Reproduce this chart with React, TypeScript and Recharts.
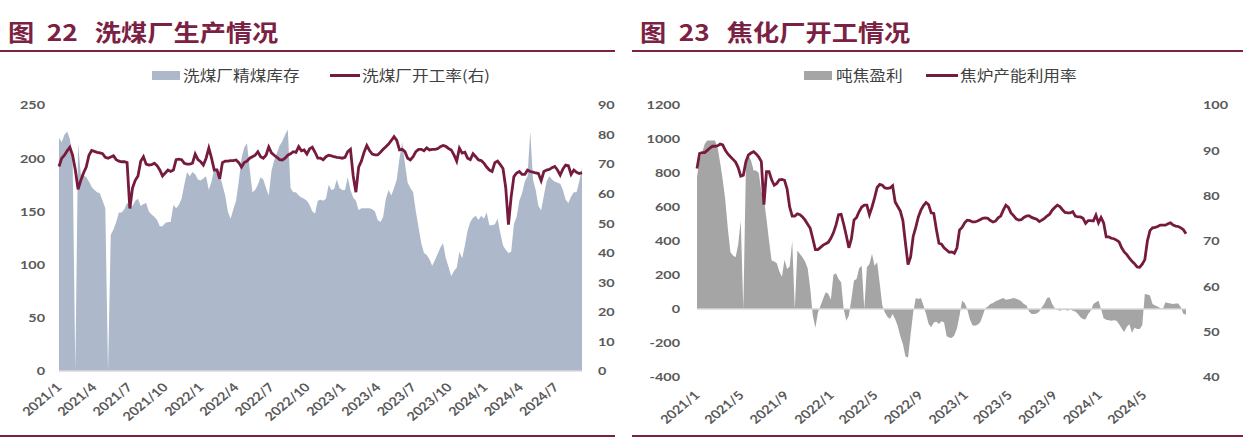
import React from "react";
import { ComposedChart, Area, Line, XAxis, YAxis, ReferenceLine } from "recharts";

// weekly series, first point = 2021/1/1
const WEEK = 7 * 24 * 3600 * 1000;
const START = Date.UTC(2021, 0, 1);

// 图22 洗煤厂精煤库存 (left axis)
const washStock = [
  219, 215, 222, 225, 218, 200, 0, 214, 185, 184,
  182, 178, 173, 170, 168, 167, 160, 153, 0, 128,
  133, 140, 149, 149, 152, 158, 157, 155, 160, 162,
  155, 157, 158, 150, 147, 145, 142, 136, 136, 139,
  140, 140, 156, 153, 156, 162, 175, 187, 183, 187,
  185, 180, 179, 181, 183, 170, 178, 190, 185, 184,
  175, 165, 150, 143, 152, 160, 178, 200, 210, 214,
  190, 168, 170, 175, 182, 180, 172, 165, 188, 198,
  205, 212, 216, 222, 227, 172, 168, 168, 165, 163,
  162, 160, 156, 150, 148, 160, 161, 160, 162, 175,
  170, 171, 180, 172, 170, 170, 182, 170, 163, 160,
  151, 153, 153, 153, 153, 152, 150, 142, 140, 145,
  162, 170, 165, 172, 180, 200, 215, 195, 177, 172,
  168, 150, 135, 120, 111, 109, 105, 99, 104, 110,
  116, 120, 106, 98, 89, 94, 97, 112, 106, 118,
  132, 140, 144, 146, 142, 146, 143, 149, 137, 137,
  138, 143, 130, 118, 114, 111, 112, 138, 145, 160,
  167, 178, 183, 225, 180, 170, 155, 151, 165, 178,
  183, 180, 178, 177, 176, 170, 161, 158, 164, 168,
  168, 178, 191,
];

// 洗煤厂开工率 (right axis)
const washRate = [
  69.2, 72, 73, 74.5, 75.7, 73, 68, 61.5, 64.5, 67,
  69, 73, 74.6, 74.3, 74, 73.8, 73.5, 72.3, 72, 72.4,
  72.8, 71.5, 71, 70.8, 70.8, 70.5, 55, 62, 64.5, 66,
  71, 72.5, 70, 69.7, 69.8, 70.3, 69.5, 68, 66, 67,
  68, 67.5, 68, 71.5, 71.7, 71.5, 70.3, 70, 70, 70.3,
  73.4, 71.5, 70.8, 69.7, 72, 75.4, 72, 68, 68, 65,
  70.5, 71, 71, 71.2, 71.2, 71.4, 70.5, 69, 70.5, 71,
  72, 72.5, 73, 74.2, 72.5, 72, 73, 75.8, 73.8, 73,
  72.3, 71.5, 71.4, 72, 73, 73.5, 74.2, 74, 75.9, 74.5,
  74.8, 73.4, 75.2, 75.7, 74, 72, 72, 71.5, 72.5, 73,
  72.8, 72.5, 72.3, 72.2, 72, 72.3, 74.2, 75, 66, 60.5,
  69, 71, 74, 76.3, 74.6, 73.4, 73.1, 73.1, 74, 75,
  75.9, 76.8, 78, 79.3, 78, 74.8, 75, 74.2, 72, 71.4,
  72.5, 74.2, 75, 75, 74.5, 75.5, 74.8, 75, 75, 75.2,
  75.9, 76.3, 76, 75.3, 74.8, 73.1, 71, 75.4, 73.7, 74,
  72, 71.5, 73.5, 72.5, 71.4, 71.2, 70.3, 69, 68, 67.5,
  70.5, 71, 69.8, 68.5, 62, 49.5, 59, 65.8, 67, 67.5,
  66.5, 66.5, 68, 67.5, 67.3, 67, 66.8, 64.4, 67.5, 68,
  68.2, 68.8, 69.2, 68, 66.3, 68.4, 69.7, 69.5, 66.5, 68,
  67.2, 66.8, 67.1,
];

const washTicks = [
  "2021/1", "2021/4", "2021/7", "2021/10", "2022/1", "2022/4", "2022/7", "2022/10",
  "2023/1", "2023/4", "2023/7", "2023/10", "2024/1", "2024/4", "2024/7",
];

// 图23 吨焦盈利 (left axis)
const cokeProfit = [
  775, 880, 920, 970, 991, 991, 991, 991, 950, 860,
  760, 640, 470, 334, 314, 304, 380, 520, 0, 834,
  903, 873, 815, 815, 800, 690, 650, 530, 400, 285,
  280, 269, 220, 190, 290, 236, 250, 400, 0, 344,
  324, 304, 280, 240, 120, -40, -110, -20, 20, 60,
  98, 90, 55, 200, 210, 177, 157, 0, -69, -40,
  60, 167, 177, 240, 255, 0, 245, 265, 324, 255,
  275, 150, 20, -20, -45, -59, -30, -60, -100, -160,
  -206, -280, -285, -150, -20, 65, 59, 65, 20, -30,
  -88, -108, -80, -75, -88, -72, -80, -160, -167, -170,
  -155, -115, -40, 49, 35, 0, -60, -95, -98, -92,
  -80, -40, 5, 14, 29, 36, 45, 52, 59, 65,
  55, 58, 60, 65, 60, 55, 45, 29, 22, -15,
  -29, -30, -26, -15, 10, 32, 65, 69, 29, 5,
  -5, -10, -5, -5, -10, -2, -10, -15, -30, -49,
  -60, -60, -30, -10, 29, 39, 49, 0, -55, -63,
  -66, -69, -66, -69, -90, -115, -135, -105, -90, -140,
  -110, -118, -118, -95, 88, 85, 80, 30, 20, 15,
  5, 0, 39, 36, 32, 30, 32, 33, 10, -29,
  -33,
];

// 焦炉产能利用率 (right axis)
const cokeRate = [
  86, 89.3, 89.5, 89.5, 90, 90.5, 90.9, 90.9, 91, 91.4,
  91.2, 90, 89.2, 88.6, 88, 87.4, 86.2, 84.3, 84.5, 87.5,
  89, 89.4, 89.7, 89.2, 88.5, 87.5, 78, 85.3, 85.3, 83.5,
  82.3, 82.7, 83.5, 83.6, 83.4, 81.5, 77.5, 75.5, 75.5, 76,
  75.8, 75.3, 74.6, 73.7, 72.8, 70.5, 68.1, 68.1, 68.6, 69.1,
  69.4, 69.7, 70.6, 71.8, 73.5, 75.8, 75.9, 73.7, 71.2, 68.5,
  70.5, 74.6, 75.2, 76.5, 77.5, 77.9, 77.9, 75.8, 77.5, 79.5,
  81.8, 82.5, 82.3, 81.7, 81.6, 81.7, 82.2, 78.6, 77.6, 76.6,
  74.5, 69.5, 64.8, 66.5, 71, 73, 75.3, 76.8, 77.8, 78.5,
  78, 76.2, 76.1, 72.6, 69.5, 69.3, 68.5, 68, 67.5, 67.6,
  67.3, 68.5, 72.4, 73, 74, 74.6, 74.5, 74.2, 74.2, 74.4,
  74.7, 75, 75.1, 75, 74.5, 74.2, 74.4, 75.1, 75.5, 76.8,
  77.9, 77.4, 76.2, 75.6, 74.9, 74.6, 74.7, 75.2, 75.5, 75.6,
  75.2, 75, 74.8, 74.3, 74.6, 75, 75.5, 75.9, 76.8, 77.4,
  77.9, 77.6, 76.9, 76.3, 76.2, 76.2, 76.5, 75.5, 75.3, 75.3,
  75, 73.9, 74.5, 74.5, 74.4, 75.7, 74, 75.2, 74, 70.9,
  70.9, 70.6, 70.5, 70.2, 69.8, 68.5, 67.6, 67, 66.2, 65.5,
  65, 64.3, 64.2, 64.9, 65.9, 70, 72.3, 72.9, 73, 73.2,
  73.5, 73.5, 73.5, 73.8, 74, 73.5, 73.3, 73.2, 72.9, 72.5,
  71.6,
];

const cokeTicks = [
  "2021/1", "2021/5", "2021/9", "2022/1", "2022/5", "2022/9",
  "2023/1", "2023/5", "2023/9", "2024/1", "2024/5",
];

const toTime = (label: string) => {
  const [y, m] = label.split("/").map(Number);
  return Date.UTC(y, m - 1, 1);
};

const washData = washStock.map((v, i) => ({ t: START + i * WEEK, stock: v, rate: washRate[i] }));
const cokeData = cokeProfit.map((v, i) => ({ t: START + i * WEEK, profit: v, rate: cokeRate[i] }));

const MAROON = "#761a3e";
const TITLE = "#7b2143";
const NUM_FONT = "Lato, 'Liberation Sans', sans-serif";
const CJK_FONT = "'Noto Sans CJK SC', sans-serif";
const SX = 1.2; // the source picture is stretched sideways

function NumTick(props: any) {
  const { x, y, payload, textAnchor } = props;
  return (
    <g transform={`translate(${x},${y}) scale(${SX},1)`}>
      <text x={0} y={0} dy="0.36em" textAnchor={textAnchor} fill="#595959"
        fontSize={12} fontWeight={700} fontFamily={NUM_FONT}>
        {payload.value}
      </text>
    </g>
  );
}

function makeDateTick(labels: string[], dy: number) {
  return (props: any) => {
    const { x, y, payload } = props;
    const label = labels.find((l) => toTime(l) === payload.value) ?? "";
    return (
      <g transform={`translate(${x},${y + dy}) scale(${SX},1) rotate(-45)`}>
        <text x={0} y={0} dy="0.36em" textAnchor="end" fill="#595959"
          fontSize={12} fontWeight={700} fontFamily={NUM_FONT}>
          {label}
        </text>
      </g>
    );
  };
}

function Title({ num, text }: { num: string; text: string }) {
  return (
    <div style={{
      position: "absolute", left: 8, top: 17, whiteSpace: "nowrap",
      fontFamily: CJK_FONT, fontWeight: 700, fontSize: 23, lineHeight: "28px",
      color: TITLE, transform: `scaleX(1.14)`, transformOrigin: "left center",
    }}>
      <span>图</span>
      <span style={{ marginLeft: 11 }}>{num}</span>
      <span style={{ marginLeft: 15 }}>{text}</span>
    </div>
  );
}

function Rule({ top, width }: { top: number; width: number }) {
  return <div style={{ position: "absolute", left: 0, top, width, height: 2, background: TITLE }} />;
}

function LegendText({ left, children }: { left: number; children: React.ReactNode }) {
  return (
    <div style={{
      position: "absolute", left, top: 66, height: 18, lineHeight: "18px", whiteSpace: "nowrap",
      fontFamily: CJK_FONT, fontSize: 14.5, color: "#404040",
      transform: `scaleX(1.15)`, transformOrigin: "left center",
    }}>
      {children}
    </div>
  );
}

function WashPanel() {
  return (
    <div style={{ position: "absolute", left: 0, top: 0, width: 616, height: 439 }}>
      <Title num="22" text="洗煤厂生产情况" />
      <Rule top={50} width={615} />
      <div style={{ position: "absolute", left: 152, top: 71, width: 28, height: 9, background: "#adb9ca" }} />
      <LegendText left={183}>洗煤厂精煤库存</LegendText>
      <div style={{ position: "absolute", left: 330, top: 74, width: 30, height: 3, background: MAROON }} />
      <LegendText left={362}>洗煤厂开工率(右)</LegendText>
      <div style={{ position: "absolute", left: 0, top: 0 }}>
        <ComposedChart width={616} height={439} data={washData}
          margin={{ top: 105, right: 4, bottom: 8, left: 9 }}>
          <XAxis dataKey="t" type="number" domain={[washData[0].t, washData[washData.length - 1].t]}
            ticks={washTicks.map(toTime)} interval={0} height={60}
            tickLine={false} tickSize={0} tickMargin={0}
            axisLine={{ stroke: "#d9d9d9", strokeWidth: 1.5 }}
            tick={makeDateTick(washTicks, 14)} />
          <YAxis yAxisId="l" domain={[0, 250]} ticks={[0, 50, 100, 150, 200, 250]} width={50}
            axisLine={false} tickLine={false} tickSize={0} tickMargin={14} tick={NumTick} />
          <YAxis yAxisId="r" orientation="right" domain={[0, 90]}
            ticks={[0, 10, 20, 30, 40, 50, 60, 70, 80, 90]} width={30}
            axisLine={false} tickLine={false} tickSize={0} tickMargin={16} tick={NumTick} />
          <Area yAxisId="l" dataKey="stock" type="linear" stroke="none" fill="#adb9ca"
            fillOpacity={1} isAnimationActive={false} />
          <Line yAxisId="r" dataKey="rate" type="linear" stroke={MAROON} strokeWidth={2.8}
            dot={false} isAnimationActive={false} />
        </ComposedChart>
      </div>
      <Rule top={435} width={615} />
    </div>
  );
}

function CokePanel() {
  return (
    <div style={{ position: "absolute", left: 632, top: 0, width: 612, height: 439 }}>
      <Title num="23" text="焦化厂开工情况" />
      <Rule top={50} width={611} />
      <div style={{ position: "absolute", left: 172, top: 71, width: 28, height: 9, background: "#a5a5a5" }} />
      <LegendText left={204}>吨焦盈利</LegendText>
      <div style={{ position: "absolute", left: 294, top: 74, width: 32, height: 3, background: MAROON }} />
      <LegendText left={328}>焦炉产能利用率</LegendText>
      <div style={{ position: "absolute", left: 0, top: 0 }}>
        <ComposedChart width={612} height={439} data={cokeData}
          margin={{ top: 105, right: 28, bottom: 7, left: 15 }}>
          <XAxis dataKey="t" type="number" domain={[cokeData[0].t, cokeData[cokeData.length - 1].t]}
            ticks={cokeTicks.map(toTime)} interval={0} height={55}
            tickLine={false} tickSize={0} tickMargin={0} axisLine={false}
            tick={makeDateTick(cokeTicks, 16)} />
          <YAxis yAxisId="l" domain={[-400, 1200]}
            ticks={[-400, -200, 0, 200, 400, 600, 800, 1000, 1200]} width={50}
            axisLine={false} tickLine={false} tickSize={0} tickMargin={17} tick={NumTick} />
          <YAxis yAxisId="r" orientation="right" domain={[40, 100]}
            ticks={[40, 50, 60, 70, 80, 90, 100]} width={30}
            axisLine={false} tickLine={false} tickSize={0} tickMargin={17} tick={NumTick} />
          <ReferenceLine yAxisId="l" y={0} stroke="#d9d9d9" strokeWidth={1.5} />
          <Area yAxisId="l" dataKey="profit" type="linear" stroke="none" fill="#a5a5a5"
            fillOpacity={1} baseValue={0} isAnimationActive={false} />
          <Line yAxisId="r" dataKey="rate" type="linear" stroke={MAROON} strokeWidth={2.8}
            dot={false} isAnimationActive={false} />
        </ComposedChart>
      </div>
      <Rule top={435} width={611} />
    </div>
  );
}

export default function App() {
  return (
    <div style={{ position: "absolute", left: 0, top: 0, width: 1252, height: 439, background: "#fff", overflow: "hidden" }}>
      <WashPanel />
      <CokePanel />
    </div>
  );
}
